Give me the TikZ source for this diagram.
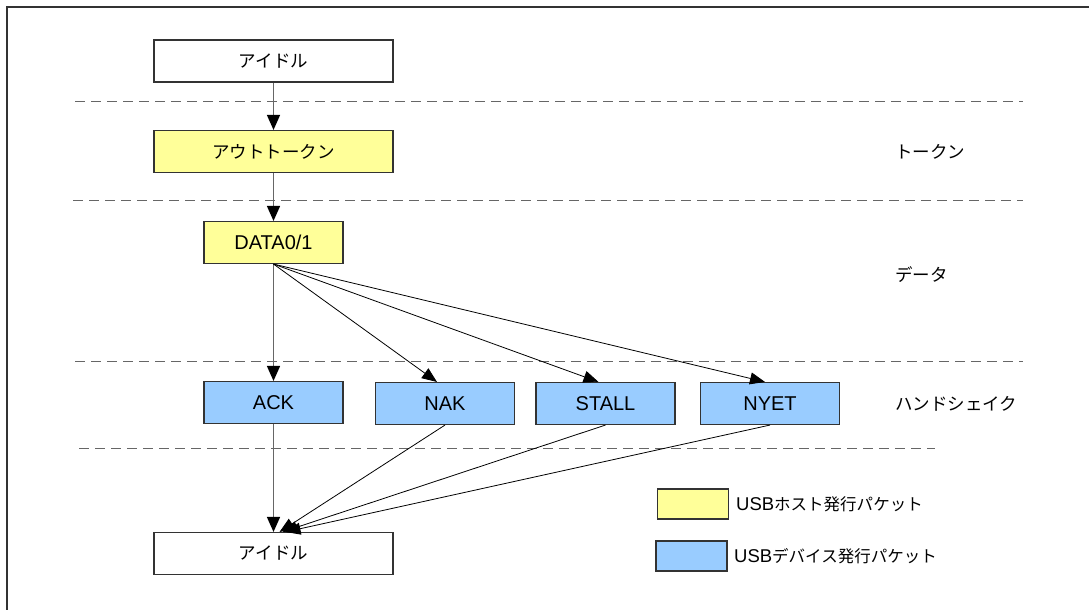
\documentclass[tikz,border=0pt]{standalone}
\usepackage{fontspec}
\setmainfont{Liberation Sans}
\newfontfamily\cjk{Noto Sans CJK JP}
\usetikzlibrary{arrows.meta}
\definecolor{hostyellow}{HTML}{FFFF99}
\definecolor{devblue}{HTML}{99CCFF}
\definecolor{edgegray}{HTML}{333333}
\definecolor{dashgray}{HTML}{666666}
\begin{document}
\begin{tikzpicture}[x=1pt,y=-1pt,
  box/.style={draw=edgegray,line width=1.1pt,minimum height=42pt,inner sep=0pt,font=\fontsize{20}{22}\selectfont},
  wide/.style={box,minimum width=239pt},
  narrow/.style={box,minimum width=139pt},
  host/.style={fill=hostyellow},
  dev/.style={fill=devblue},
  jp/.style={font=\cjk\fontsize{17.5}{20}\selectfont},
  sep/.style={draw=dashgray,line width=1pt,dash pattern=on 10pt off 6pt},
  vconn/.style={draw=dashgray,line width=1.4pt,-{Triangle[length=15pt,width=13pt,color=black]}},
  dconn/.style={draw=black,line width=0.8pt,-{Triangle[length=15pt,width=12pt]}},
  lab/.style={anchor=west,inner sep=0pt,font=\cjk\fontsize{17.5}{20}\selectfont},
  legbox/.style={draw=edgegray,line width=1.1pt,minimum width=71pt,minimum height=30pt,inner sep=0pt},
  legtext/.style={anchor=west,inner sep=0pt}
]
\useasboundingbox (0,0) rectangle (1089,610);
\fill[white] (0,0) rectangle (1089,610);
% frame
\draw[edgegray,line width=1.5pt] (7,612) -- (7,7) -- (1091,7);

% separators
\draw[sep] (75,101) -- (1023,101);
\draw[sep] (73,200) -- (1023,200);
\draw[sep] (75,361) -- (1023,361);
\draw[sep] (79,448) -- (935,448);

% nodes
\node[wide,jp] (idle1) at (273.5,61) {アイドル};
\node[wide,host,jp] (token) at (273.5,151.5) {アウトトークン};
\node[narrow,host] (data) at (273.5,242.5) {DATA0/1};
\node[narrow,dev] (ack) at (273.5,402.5) {ACK};
\node[narrow,dev] (nak) at (445,403.5) {NAK};
\node[narrow,dev] (stall) at (605.5,403.5) {STALL};
\node[narrow,dev] (nyet) at (770,403.5) {NYET};
\node[wide,jp] (idle2) at (273.5,553.5) {アイドル};

% phase labels
\node[lab] (ltoken) at (895,152) {トークン};
\node[lab] (ldata) at (895,275) {データ};
\node[lab] (lhand) at (895,404) {ハンドシェイク};

% connectors
\draw[vconn] (idle1.south) -- (token.north);
\draw[vconn] (token.south) -- (data.north);
\draw[vconn] (data.south) -- (ack.north);
\draw[dconn] (data.south) -- ([xshift=-8pt]nak.north);
\draw[dconn] (data.south) -- ([xshift=-7pt]stall.north);
\draw[dconn] (data.south) -- ([xshift=-5pt]nyet.north);
\draw[vconn] (ack.south) -- (idle2.north);
\draw[dconn] (nak.south) -- ([xshift=6pt]idle2.north);
\draw[dconn] (stall.south) -- ([xshift=9pt]idle2.north);
\draw[dconn] (nyet.south) -- ([xshift=12pt]idle2.north);

% legend
\node[legbox,fill=hostyellow] (lhost) at (693,504) {};
\node[legtext] (thost) at (736,504) {\fontsize{18.5}{20}\selectfont USB\cjk\fontsize{16.5}{20}\selectfont ホスト発行パケット};
\node[legbox,fill=devblue] (ldev) at (691.5,556) {};
\node[legtext] (tdev) at (734,556) {\fontsize{18.5}{20}\selectfont USB\cjk\fontsize{16.5}{20}\selectfont デバイス発行パケット};
\end{tikzpicture}
\end{document}
